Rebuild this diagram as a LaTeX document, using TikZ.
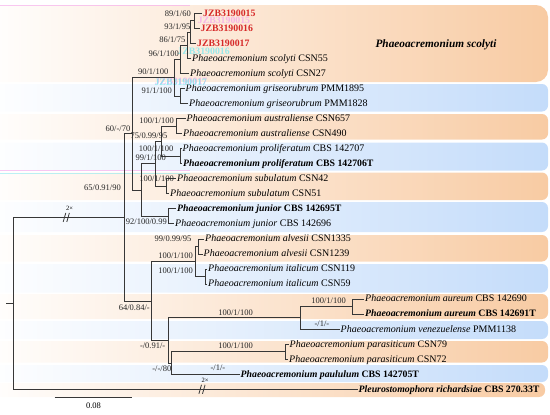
\documentclass[tikz,border=0pt]{standalone}
\usepackage{fontspec}
\setmainfont{Liberation Serif}

\definecolor{oband}{RGB}{248,203,163}
\definecolor{bband}{RGB}{196,220,250}
\definecolor{branch}{RGB}{55,55,55}
\definecolor{jzbred}{RGB}{214,40,40}
\definecolor{ghostpink}{RGB}{245,165,235}
\definecolor{ghostcyan}{RGB}{120,232,240}

\newcommand{\phaeo}{\textit{Phaeoacremonium}}

\begin{document}
\begin{tikzpicture}[x=1pt, y=-1pt,
  br/.style={draw=branch, line width=0.8pt},
  leaf/.style={anchor=west, inner sep=1pt, font=\fontsize{10}{12}\selectfont, text height=1.5ex, text depth=.25ex},
  typ/.style={font=\fontsize{9.8}{11}\selectfont\bfseries},
  plain/.style={},
  bs/.style={anchor=east, inner sep=0pt, font=\fontsize{8.5}{10}\selectfont, text=black!85},
  ghost/.style={inner sep=0pt, font=\fontsize{9.8}{11}\selectfont\bfseries, opacity=.75}]
\useasboundingbox (0,0) rectangle (550,415);
\clip (0,0) rectangle (550,415);

% coloured clade bands
\foreach \ya/\yb/\col/\xr/\rc in {5/82/oband/548/12, 84/111.5/bband/548/6, 114/139.5/oband/548/6,
    142.5/170.5/bband/548/6, 172.5/200/oband/548/6, 202/232/bband/548/6, 235/261.5/oband/548/6,
    264/292.5/bband/548/6, 294/319/oband/548/6, 321/339/bband/548/6, 341/362.5/oband/548/6,
    365/382/bband/548/6, 383/397/oband/545/6}
  \shade[left color=white, right color=\col, rounded corners=\rc pt] (-20,\ya) rectangle (\xr,\yb);

% stray highlight lines
\draw[ghostpink, line width=1pt, opacity=.6] (0,5) -- (190,5);
\draw[ghostpink, line width=1pt, opacity=.6] (0,170.5) -- (190,170.5);
\draw[ghostcyan, line width=1pt, opacity=.5] (0,173.5) -- (190,173.5);

% taxa
\foreach \i/\x/\st/\txt in {
  1/202/typ/{\textcolor{jzbred}{JZB3190015}},
  2/199.5/typ/{\textcolor{jzbred}{JZB3190016}},
  3/196/typ/{\textcolor{jzbred}{JZB3190017}},
  4/191/plain/{\phaeo{} \textit{scolyti} CSN55},
  5/189/plain/{\phaeo{} \textit{scolyti} CSN27},
  6/184.5/plain/{\phaeo{} \textit{griseorubrum} PMM1895},
  7/188/plain/{\phaeo{} \textit{griseorubrum} PMM1828},
  8/185.5/plain/{\phaeo{} \textit{australiense} CSN657},
  9/182/plain/{\phaeo{} \textit{australiense} CSN490},
  10/181.5/plain/{\phaeo{} \textit{proliferatum} CBS 142707},
  11/182/typ/{\phaeo{} \textit{proliferatum} CBS 142706T},
  12/176/plain/{\phaeo{} \textit{subulatum} CSN42},
  13/169/plain/{\phaeo{} \textit{subulatum} CSN51},
  14/176/typ/{\phaeo{} \textit{junior} CBS 142695T},
  15/174/plain/{\phaeo{} \textit{junior} CBS 142696},
  16/204/plain/{\phaeo{} \textit{alvesii} CSN1335},
  17/202.5/plain/{\phaeo{} \textit{alvesii} CSN1239},
  18/207/plain/{\phaeo{} \textit{italicum} CSN119},
  19/207/plain/{\phaeo{} \textit{italicum} CSN59},
  20/364/plain/{\phaeo{} \textit{aureum} CBS 142690},
  21/364/typ/{\phaeo{} \textit{aureum} CBS 142691T},
  22/339.5/plain/{\phaeo{} \textit{venezuelense} PMM1138},
  23/288.5/plain/{\phaeo{} \textit{parasiticum} CSN79},
  24/288/plain/{\phaeo{} \textit{parasiticum} CSN72},
  25/239.5/typ/{\phaeo{} \textit{paululum} CBS 142705T},
  26/357.5/typ/{\textit{Pleurostomophora richardsiae} CBS 270.33T}}
  \node[leaf, \st] (t\i) at (\x,{13.3+15.04*(\i-1)}) {\txt};

% faint copies of the new isolates
\node[ghost, text=ghostpink] (g1) at (224,20.7) {JZB3190015};
\node[ghost, text=ghostcyan] (g2) at (203.6,51.7) {JZB3190016};
\node[ghost, text=ghostpink] (g3) at (181.2,81.2) {JZB3190017};
\node[ghost, text=ghostcyan] (g3b) at (180.7,82) {JZB3190017};

% internal nodes
\coordinate (n89) at (194,20.82);
\coordinate (n93) at (190.5,32.10);
\coordinate (n86) at (187,45.26);
\coordinate (n96) at (180,59.36);
\coordinate (n91) at (180,96.02);
\coordinate (n90) at (174.5,77.69);
\coordinate (nAus) at (176.5,126.10);
\coordinate (nPro) at (180,156.18);
\coordinate (n75) at (161.5,141.14);
\coordinate (nSub) at (166,186.26);
\coordinate (n99) at (155,163.70);
\coordinate (nJun) at (168,216.34);
\coordinate (nX) at (141.5,190.02);
\coordinate (n60) at (132.5,133.86);
\coordinate (nAlv) at (198.5,246.42);
\coordinate (nIta) at (205,276.50);
\coordinate (nAI) at (195,261.46);
\coordinate (nAur) at (352,306.58);
\coordinate (nAV) at (300.5,317.86);
\coordinate (nPar) at (285,351.70);
\coordinate (nPP) at (171.5,362.98);
\coordinate (nD) at (168.5,340.42);
\coordinate (nC) at (151.5,300.94);
\coordinate (nA) at (124.5,217.40);
\coordinate (root) at (13.5,303.35);
\coordinate (stub) at (6.3,303.35);

% branches
\draw[br] (t1.west) -| (n89) (t2.west) -| (n89)
  (n89) -| (n93) (t3.west) -| (n93)
  (n93) -| (n86) (t4.west) -| (n86)
  (n86) -| (n96) (t5.west) -| (n96)
  (t6.west) -| (n91) (t7.west) -| (n91)
  (n96) -| (n90) (n91) -| (n90)
  (t8.west) -| (nAus) (t9.west) -| (nAus)
  (t10.west) -| (nPro) (t11.west) -| (nPro)
  (nAus) -| (n75) (nPro) -| (n75)
  (t12.west) -| (nSub) (t13.west) -| (nSub)
  (n75) -| (n99) (nSub) -| (n99)
  (t14.west) -| (nJun) (t15.west) -| (nJun)
  (n99) -| (nX) (nJun) -| (nX)
  (n90) -| (n60) (nX) -| (n60)
  (t16.west) -| (nAlv) (t17.west) -| (nAlv)
  (t18.west) -| (nIta) (t19.west) -| (nIta)
  (nAlv) -| (nAI) (nIta) -| (nAI)
  (t20.west) -| (nAur) (t21.west) -| (nAur)
  (nAur) -| (nAV) (t22.west) -| (nAV)
  (t23.west) -| (nPar) (t24.west) -| (nPar)
  (nPar) -| (nPP) (t25.west) -| (nPP)
  (nAV) -| (nD) (nPP) -| (nD)
  (nAI) -| (nC) (nD) -| (nC)
  (n60) -| (nA) (nC) -| (nA)
  (nA) -| (root) (t26.west) -| (root)
  (root) -- (stub);

% support values
\foreach \x/\y/\s [count=\k] in {191/13.5/{89/1/60}, 190.5/26.5/{93/1/95}, 185.5/40/{86/1/75},
    179/54/{96/1/100}, 168.5/72/{90/1/100}, 172/90.5/{91/1/100}, 174/120.5/{100/1/100},
    130.5/128.5/{60/-/70}, 167.5/135.5/{75/0.99/95}, 173.5/149/{100/1/100}, 166/157.5/{99/1/100},
    174/179/{100/1/100}, 121/187.7/{65/0.91/90}, 167/221.5/{92/100/0.99}, 191.5/239/{99/0.99/95},
    193/255.5/{100/1/100}, 193/270.5/{100/1/100}, 150/307.5/{64/0.84/-}, 346/301/{100/1/100},
    253/312.3/{100/1/100}, 329.5/323.5/{-/1/-}, 165.5/345.5/{-/0.91/-}, 253/345.7/{100/1/100},
    171.5/368.3/{-/-/80}, 225.5/367.7/{-/1/-}}
  \node[bs] (s\k) at (\x,\y) {\s};

% clade name
\node[font=\fontsize{11.3}{13}\selectfont] (clade) at (436,44.3) {\textbf{\textit{Phaeoacremonium scolyti}}};

% shortened branches
\coordinate (brk1) at (67,217.4);
\coordinate (brk2) at (202.7,389.3);
\draw[br] (brk1) ++(-3.8,4.5) -- ++(2.6,-9) (brk1) ++(-0.2,4.5) -- ++(2.6,-9);
\draw[br] (brk2) ++(-3.8,4.5) -- ++(2.6,-9) (brk2) ++(-0.2,4.5) -- ++(2.6,-9);
\node[font=\fontsize{6.5}{7}\selectfont] (x1) at (69.5,208) {2×};
\node[font=\fontsize{6.5}{7}\selectfont] (x2) at (205,380) {2×};

% scale bar
\coordinate (sa) at (54.7,397.7);
\coordinate (sb) at (132.2,397.7);
\draw[br] (sa) -- (sb) node[midway, below=5pt, inner sep=0pt, font=\fontsize{8.5}{10}\selectfont] (scale) {0.08};
\end{tikzpicture}
\end{document}
